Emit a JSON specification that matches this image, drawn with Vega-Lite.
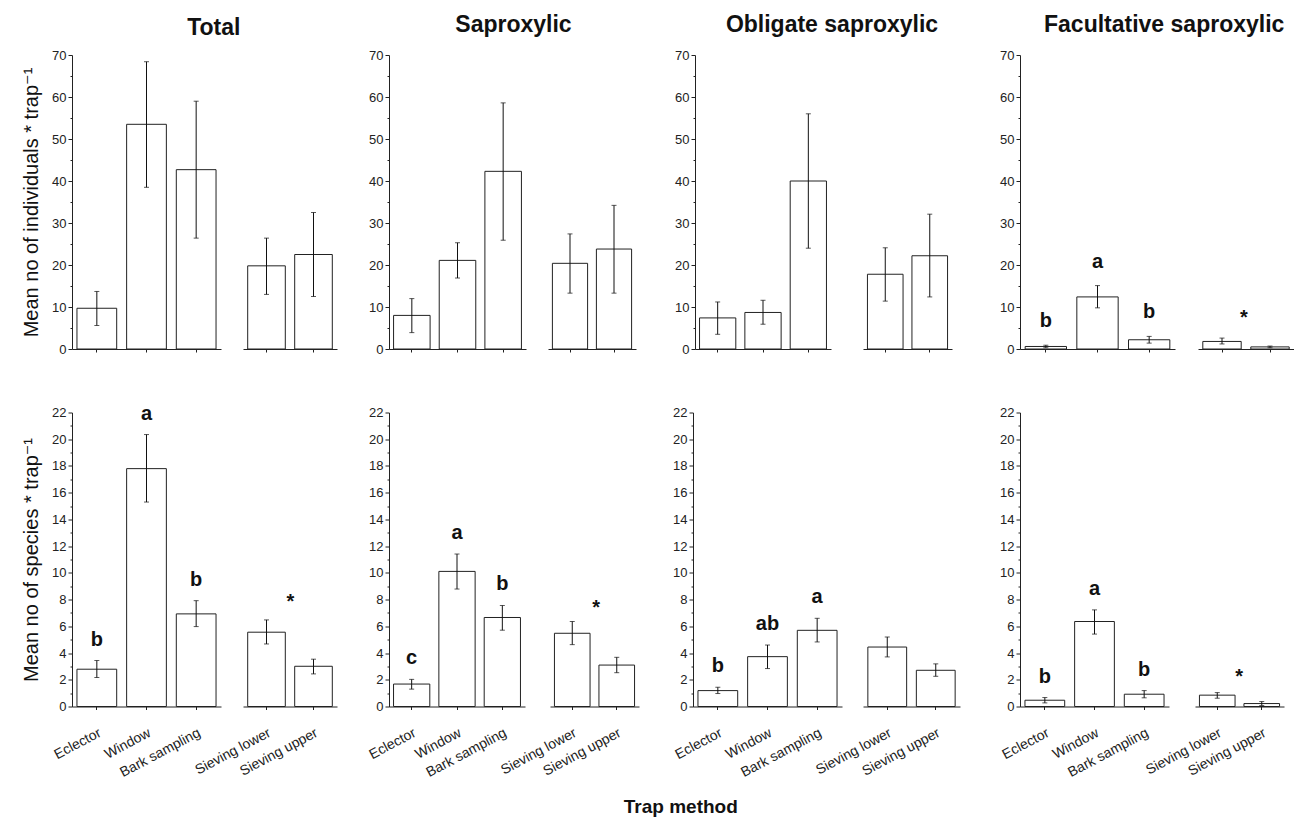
{
  "$schema": "https://vega.github.io/schema/vega-lite/v6.json",
  "background": "white",
  "padding": {"left": 21, "top": 14, "right": 0, "bottom": 0},
  "config": {
    "view": {"stroke": null},
    "font": "Liberation Sans",
    "axis": {"domainColor": "#222", "tickColor": "#222", "labelColor": "#222", "labelFont": "Liberation Sans", "labelFontSize": 13, "titleFont": "Liberation Sans, DejaVu Sans", "titleColor": "#111", "titleFontWeight": "normal", "titleFontSize": 20, "grid": false, "tickSize": 3, "domainWidth": 1, "tickWidth": 1},
    "axisY": {"labelPadding": 2, "titlePadding": 10, "labelOverlap": false},
    "axisX": {"title": null},
    "bar": {"fill": "white", "stroke": "#222", "strokeWidth": 1},
    "rule": {"color": "#111", "strokeWidth": 1},
    "tick": {"color": "#111", "size": 5, "thickness": 1},
    "point": {"opacity": 0},
    "text": {"font": "Liberation Sans", "fontSize": 20, "fontWeight": "bold", "color": "#111", "baseline": "alphabetic", "align": "center"},
    "title": {"font": "Liberation Sans", "fontSize": 23, "fontWeight": "bold", "color": "#111", "anchor": "start", "frame": "group", "offset": 12}
  },
  "title": {"text": "Trap method", "orient": "bottom", "fontSize": 19, "offset": 18, "anchor": "middle", "frame": "bounds", "dx": 23},
  "data": {"values": [
    {"m":"ind","g":"Total","s":"A","method":"Eclector","mean":9.7,"lo":5.6,"hi":13.7,"let":""},
    {"m":"ind","g":"Total","s":"A","method":"Window","mean":53.5,"lo":38.5,"hi":68.4,"let":""},
    {"m":"ind","g":"Total","s":"A","method":"Bark sampling","mean":42.7,"lo":26.4,"hi":59.0,"let":""},
    {"m":"ind","g":"Total","s":"B","method":"Sieving lower","mean":19.8,"lo":13.0,"hi":26.4,"let":""},
    {"m":"ind","g":"Total","s":"B","method":"Sieving upper","mean":22.5,"lo":12.5,"hi":32.5,"let":""},
    {"m":"ind","g":"Saproxylic","s":"A","method":"Eclector","mean":8.0,"lo":3.9,"hi":12.0,"let":""},
    {"m":"ind","g":"Saproxylic","s":"A","method":"Window","mean":21.1,"lo":16.9,"hi":25.3,"let":""},
    {"m":"ind","g":"Saproxylic","s":"A","method":"Bark sampling","mean":42.3,"lo":25.9,"hi":58.6,"let":""},
    {"m":"ind","g":"Saproxylic","s":"B","method":"Sieving lower","mean":20.4,"lo":13.3,"hi":27.4,"let":""},
    {"m":"ind","g":"Saproxylic","s":"B","method":"Sieving upper","mean":23.8,"lo":13.3,"hi":34.2,"let":""},
    {"m":"ind","g":"Obligate","s":"A","method":"Eclector","mean":7.4,"lo":3.5,"hi":11.2,"let":""},
    {"m":"ind","g":"Obligate","s":"A","method":"Window","mean":8.7,"lo":5.9,"hi":11.6,"let":""},
    {"m":"ind","g":"Obligate","s":"A","method":"Bark sampling","mean":40.0,"lo":24.0,"hi":56.0,"let":""},
    {"m":"ind","g":"Obligate","s":"B","method":"Sieving lower","mean":17.8,"lo":11.4,"hi":24.1,"let":""},
    {"m":"ind","g":"Obligate","s":"B","method":"Sieving upper","mean":22.2,"lo":12.4,"hi":32.1,"let":""},
    {"m":"ind","g":"Facultative","s":"A","method":"Eclector","mean":0.6,"lo":0.3,"hi":0.9,"let":"b"},
    {"m":"ind","g":"Facultative","s":"A","method":"Window","mean":12.4,"lo":9.8,"hi":15.1,"let":"a"},
    {"m":"ind","g":"Facultative","s":"A","method":"Bark sampling","mean":2.2,"lo":1.4,"hi":3.0,"let":"b"},
    {"m":"ind","g":"Facultative","s":"B","method":"Sieving lower","mean":1.8,"lo":1.2,"hi":2.6,"let":"*"},
    {"m":"ind","g":"Facultative","s":"B","method":"Sieving upper","mean":0.5,"lo":0.3,"hi":0.7,"let":""},
    {"m":"spp","g":"Total","s":"A","method":"Eclector","mean":2.79,"lo":2.17,"hi":3.44,"let":"b"},
    {"m":"spp","g":"Total","s":"A","method":"Window","mean":17.8,"lo":15.3,"hi":20.35,"let":"a"},
    {"m":"spp","g":"Total","s":"A","method":"Bark sampling","mean":6.93,"lo":5.98,"hi":7.92,"let":"b"},
    {"m":"spp","g":"Total","s":"B","method":"Sieving lower","mean":5.56,"lo":4.68,"hi":6.48,"let":"*"},
    {"m":"spp","g":"Total","s":"B","method":"Sieving upper","mean":3.01,"lo":2.44,"hi":3.54,"let":""},
    {"m":"spp","g":"Saproxylic","s":"A","method":"Eclector","mean":1.68,"lo":1.30,"hi":2.03,"let":"c"},
    {"m":"spp","g":"Saproxylic","s":"A","method":"Window","mean":10.11,"lo":8.79,"hi":11.41,"let":"a"},
    {"m":"spp","g":"Saproxylic","s":"A","method":"Bark sampling","mean":6.66,"lo":5.71,"hi":7.56,"let":"b"},
    {"m":"spp","g":"Saproxylic","s":"B","method":"Sieving lower","mean":5.48,"lo":4.63,"hi":6.36,"let":"*"},
    {"m":"spp","g":"Saproxylic","s":"B","method":"Sieving upper","mean":3.10,"lo":2.53,"hi":3.68,"let":""},
    {"m":"spp","g":"Obligate","s":"A","method":"Eclector","mean":1.19,"lo":0.97,"hi":1.44,"let":"b"},
    {"m":"spp","g":"Obligate","s":"A","method":"Window","mean":3.73,"lo":2.84,"hi":4.6,"let":"ab"},
    {"m":"spp","g":"Obligate","s":"A","method":"Bark sampling","mean":5.70,"lo":4.83,"hi":6.6,"let":"a"},
    {"m":"spp","g":"Obligate","s":"B","method":"Sieving lower","mean":4.45,"lo":3.71,"hi":5.2,"let":""},
    {"m":"spp","g":"Obligate","s":"B","method":"Sieving upper","mean":2.71,"lo":2.26,"hi":3.19,"let":""},
    {"m":"spp","g":"Facultative","s":"A","method":"Eclector","mean":0.47,"lo":0.27,"hi":0.67,"let":"b"},
    {"m":"spp","g":"Facultative","s":"A","method":"Window","mean":6.36,"lo":5.42,"hi":7.23,"let":"a"},
    {"m":"spp","g":"Facultative","s":"A","method":"Bark sampling","mean":0.92,"lo":0.65,"hi":1.19,"let":"b"},
    {"m":"spp","g":"Facultative","s":"B","method":"Sieving lower","mean":0.85,"lo":0.62,"hi":1.04,"let":"*"},
    {"m":"spp","g":"Facultative","s":"B","method":"Sieving upper","mean":0.22,"lo":0.07,"hi":0.37,"let":""}
  ]},
  "spacing": 47.5,
  "vconcat": [
   {"bounds": "flush", "spacing": 0, "hconcat": [
    {"width": 149, "height": 294, "title": {"text": "Total", "dx": 115.2, "dy": 3},
     "transform": [{"filter": "datum.m==='ind' && datum.g==='Total' && datum.s==='A'"}],
     "encoding": {"x": {"field": "method", "type": "nominal", "sort": ["Eclector","Window","Bark sampling"], "scale": {"paddingInner": 0.2, "paddingOuter": 0.1}, "axis": {"labels": false}}},
     "layer": [
       {"mark": "bar", "encoding": {"y": {"field": "mean", "type": "quantitative", "scale": {"domain": [0,70], "nice": false}, "axis": {"title": "Mean no of individuals * trap⁻¹", "labelOverlap": false, "values": [0,5,10,15,20,25,30,35,40,45,50,55,60,65,70], "labelExpr": "datum.value % 10 === 0 ? datum.label : ''", "tickSize": {"condition": {"test": "datum.value % 10 === 0", "value": 4}, "value": 2}}}}},
       {"mark": "rule", "encoding": {"y": {"field": "lo", "type": "quantitative", "scale": {"domain": [0,70], "nice": false}, "axis": {"title": "Mean no of individuals * trap⁻¹", "labelOverlap": false, "values": [0,5,10,15,20,25,30,35,40,45,50,55,60,65,70], "labelExpr": "datum.value % 10 === 0 ? datum.label : ''", "tickSize": {"condition": {"test": "datum.value % 10 === 0", "value": 4}, "value": 2}}}, "y2": {"field": "hi"}}},
       {"mark": "tick", "encoding": {"y": {"field": "lo", "type": "quantitative", "scale": {"domain": [0,70], "nice": false}, "axis": {"title": "Mean no of individuals * trap⁻¹", "labelOverlap": false, "values": [0,5,10,15,20,25,30,35,40,45,50,55,60,65,70], "labelExpr": "datum.value % 10 === 0 ? datum.label : ''", "tickSize": {"condition": {"test": "datum.value % 10 === 0", "value": 4}, "value": 2}}}}},
       {"mark": "tick", "encoding": {"y": {"field": "hi", "type": "quantitative", "scale": {"domain": [0,70], "nice": false}, "axis": {"title": "Mean no of individuals * trap⁻¹", "labelOverlap": false, "values": [0,5,10,15,20,25,30,35,40,45,50,55,60,65,70], "labelExpr": "datum.value % 10 === 0 ? datum.label : ''", "tickSize": {"condition": {"test": "datum.value % 10 === 0", "value": 4}, "value": 2}}}}}
     ]},
    {"width": 22, "height": 294, "data": {"values": []}, "mark": "point"},
    {"width": 94, "height": 294,
     "transform": [{"filter": "datum.m==='ind' && datum.g==='Total' && datum.s==='B'"}],
     "encoding": {"x": {"field": "method", "type": "nominal", "sort": ["Sieving lower","Sieving upper"], "scale": {"paddingInner": 0.2, "paddingOuter": 0.1}, "axis": {"labels": false}}},
     "layer": [
       {"mark": "bar", "encoding": {"y": {"field": "mean", "type": "quantitative", "scale": {"domain": [0,70], "nice": false}, "axis": null}}},
       {"mark": "rule", "encoding": {"y": {"field": "lo", "type": "quantitative", "axis": null}, "y2": {"field": "hi"}}},
       {"mark": "tick", "encoding": {"y": {"field": "lo", "type": "quantitative", "axis": null}}},
       {"mark": "tick", "encoding": {"y": {"field": "hi", "type": "quantitative", "axis": null}}}
     ]},
    {"width": 52, "height": 294, "data": {"values": []}, "mark": "point"},
    {"width": 137, "height": 294, "title": {"text": "Saproxylic", "dx": 66.3},
     "transform": [{"filter": "datum.m==='ind' && datum.g==='Saproxylic' && datum.s==='A'"}],
     "encoding": {"x": {"field": "method", "type": "nominal", "sort": ["Eclector","Window","Bark sampling"], "scale": {"paddingInner": 0.2, "paddingOuter": 0.1}, "axis": {"labels": false}}},
     "layer": [
       {"mark": "bar", "encoding": {"y": {"field": "mean", "type": "quantitative", "scale": {"domain": [0,70], "nice": false}, "axis": {"title": null, "labelOverlap": false, "values": [0,5,10,15,20,25,30,35,40,45,50,55,60,65,70], "labelExpr": "datum.value % 10 === 0 ? datum.label : ''", "tickSize": {"condition": {"test": "datum.value % 10 === 0", "value": 4}, "value": 2}}}}},
       {"mark": "rule", "encoding": {"y": {"field": "lo", "type": "quantitative", "scale": {"domain": [0,70], "nice": false}, "axis": {"title": null, "labelOverlap": false, "values": [0,5,10,15,20,25,30,35,40,45,50,55,60,65,70], "labelExpr": "datum.value % 10 === 0 ? datum.label : ''", "tickSize": {"condition": {"test": "datum.value % 10 === 0", "value": 4}, "value": 2}}}, "y2": {"field": "hi"}}},
       {"mark": "tick", "encoding": {"y": {"field": "lo", "type": "quantitative", "scale": {"domain": [0,70], "nice": false}, "axis": {"title": null, "labelOverlap": false, "values": [0,5,10,15,20,25,30,35,40,45,50,55,60,65,70], "labelExpr": "datum.value % 10 === 0 ? datum.label : ''", "tickSize": {"condition": {"test": "datum.value % 10 === 0", "value": 4}, "value": 2}}}}},
       {"mark": "tick", "encoding": {"y": {"field": "hi", "type": "quantitative", "scale": {"domain": [0,70], "nice": false}, "axis": {"title": null, "labelOverlap": false, "values": [0,5,10,15,20,25,30,35,40,45,50,55,60,65,70], "labelExpr": "datum.value % 10 === 0 ? datum.label : ''", "tickSize": {"condition": {"test": "datum.value % 10 === 0", "value": 4}, "value": 2}}}}}
     ]},
    {"width": 22, "height": 294, "data": {"values": []}, "mark": "point"},
    {"width": 88, "height": 294,
     "transform": [{"filter": "datum.m==='ind' && datum.g==='Saproxylic' && datum.s==='B'"}],
     "encoding": {"x": {"field": "method", "type": "nominal", "sort": ["Sieving lower","Sieving upper"], "scale": {"paddingInner": 0.2, "paddingOuter": 0.1}, "axis": {"labels": false}}},
     "layer": [
       {"mark": "bar", "encoding": {"y": {"field": "mean", "type": "quantitative", "scale": {"domain": [0,70], "nice": false}, "axis": null}}},
       {"mark": "rule", "encoding": {"y": {"field": "lo", "type": "quantitative", "axis": null}, "y2": {"field": "hi"}}},
       {"mark": "tick", "encoding": {"y": {"field": "lo", "type": "quantitative", "axis": null}}},
       {"mark": "tick", "encoding": {"y": {"field": "hi", "type": "quantitative", "axis": null}}}
     ]},
    {"width": 59, "height": 294, "data": {"values": []}, "mark": "point"},
    {"width": 136, "height": 294, "title": {"text": "Obligate saproxylic", "dx": 30.9},
     "transform": [{"filter": "datum.m==='ind' && datum.g==='Obligate' && datum.s==='A'"}],
     "encoding": {"x": {"field": "method", "type": "nominal", "sort": ["Eclector","Window","Bark sampling"], "scale": {"paddingInner": 0.2, "paddingOuter": 0.1}, "axis": {"labels": false}}},
     "layer": [
       {"mark": "bar", "encoding": {"y": {"field": "mean", "type": "quantitative", "scale": {"domain": [0,70], "nice": false}, "axis": {"title": null, "labelOverlap": false, "values": [0,5,10,15,20,25,30,35,40,45,50,55,60,65,70], "labelExpr": "datum.value % 10 === 0 ? datum.label : ''", "tickSize": {"condition": {"test": "datum.value % 10 === 0", "value": 4}, "value": 2}}}}},
       {"mark": "rule", "encoding": {"y": {"field": "lo", "type": "quantitative", "scale": {"domain": [0,70], "nice": false}, "axis": {"title": null, "labelOverlap": false, "values": [0,5,10,15,20,25,30,35,40,45,50,55,60,65,70], "labelExpr": "datum.value % 10 === 0 ? datum.label : ''", "tickSize": {"condition": {"test": "datum.value % 10 === 0", "value": 4}, "value": 2}}}, "y2": {"field": "hi"}}},
       {"mark": "tick", "encoding": {"y": {"field": "lo", "type": "quantitative", "scale": {"domain": [0,70], "nice": false}, "axis": {"title": null, "labelOverlap": false, "values": [0,5,10,15,20,25,30,35,40,45,50,55,60,65,70], "labelExpr": "datum.value % 10 === 0 ? datum.label : ''", "tickSize": {"condition": {"test": "datum.value % 10 === 0", "value": 4}, "value": 2}}}}},
       {"mark": "tick", "encoding": {"y": {"field": "hi", "type": "quantitative", "scale": {"domain": [0,70], "nice": false}, "axis": {"title": null, "labelOverlap": false, "values": [0,5,10,15,20,25,30,35,40,45,50,55,60,65,70], "labelExpr": "datum.value % 10 === 0 ? datum.label : ''", "tickSize": {"condition": {"test": "datum.value % 10 === 0", "value": 4}, "value": 2}}}}}
     ]},
    {"width": 32, "height": 294, "data": {"values": []}, "mark": "point"},
    {"width": 89, "height": 294,
     "transform": [{"filter": "datum.m==='ind' && datum.g==='Obligate' && datum.s==='B'"}],
     "encoding": {"x": {"field": "method", "type": "nominal", "sort": ["Sieving lower","Sieving upper"], "scale": {"paddingInner": 0.2, "paddingOuter": 0.1}, "axis": {"labels": false}}},
     "layer": [
       {"mark": "bar", "encoding": {"y": {"field": "mean", "type": "quantitative", "scale": {"domain": [0,70], "nice": false}, "axis": null}}},
       {"mark": "rule", "encoding": {"y": {"field": "lo", "type": "quantitative", "axis": null}, "y2": {"field": "hi"}}},
       {"mark": "tick", "encoding": {"y": {"field": "lo", "type": "quantitative", "axis": null}}},
       {"mark": "tick", "encoding": {"y": {"field": "hi", "type": "quantitative", "axis": null}}}
     ]},
    {"width": 68, "height": 294, "data": {"values": []}, "mark": "point"},
    {"width": 155, "height": 294, "title": {"text": "Facultative saproxylic", "dx": 24},
     "transform": [{"filter": "datum.m==='ind' && datum.g==='Facultative' && datum.s==='A'"}],
     "encoding": {"x": {"field": "method", "type": "nominal", "sort": ["Eclector","Window","Bark sampling"], "scale": {"paddingInner": 0.2, "paddingOuter": 0.1}, "axis": {"labels": false}}},
     "layer": [
       {"mark": "bar", "encoding": {"y": {"field": "mean", "type": "quantitative", "scale": {"domain": [0,70], "nice": false}, "axis": {"title": null, "labelOverlap": false, "values": [0,5,10,15,20,25,30,35,40,45,50,55,60,65,70], "labelExpr": "datum.value % 10 === 0 ? datum.label : ''", "tickSize": {"condition": {"test": "datum.value % 10 === 0", "value": 4}, "value": 2}}}}},
       {"mark": "rule", "encoding": {"y": {"field": "lo", "type": "quantitative", "scale": {"domain": [0,70], "nice": false}, "axis": {"title": null, "labelOverlap": false, "values": [0,5,10,15,20,25,30,35,40,45,50,55,60,65,70], "labelExpr": "datum.value % 10 === 0 ? datum.label : ''", "tickSize": {"condition": {"test": "datum.value % 10 === 0", "value": 4}, "value": 2}}}, "y2": {"field": "hi"}}},
       {"mark": "tick", "encoding": {"y": {"field": "lo", "type": "quantitative", "scale": {"domain": [0,70], "nice": false}, "axis": {"title": null, "labelOverlap": false, "values": [0,5,10,15,20,25,30,35,40,45,50,55,60,65,70], "labelExpr": "datum.value % 10 === 0 ? datum.label : ''", "tickSize": {"condition": {"test": "datum.value % 10 === 0", "value": 4}, "value": 2}}}}},
       {"mark": "tick", "encoding": {"y": {"field": "hi", "type": "quantitative", "scale": {"domain": [0,70], "nice": false}, "axis": {"title": null, "labelOverlap": false, "values": [0,5,10,15,20,25,30,35,40,45,50,55,60,65,70], "labelExpr": "datum.value % 10 === 0 ? datum.label : ''", "tickSize": {"condition": {"test": "datum.value % 10 === 0", "value": 4}, "value": 2}}}}},
       {"mark": {"type": "text", "dy": -18}, "encoding": {"y": {"field": "hi", "type": "quantitative", "scale": {"domain": [0,70], "nice": false}, "axis": {"title": null, "labelOverlap": false, "values": [0,5,10,15,20,25,30,35,40,45,50,55,60,65,70], "labelExpr": "datum.value % 10 === 0 ? datum.label : ''", "tickSize": {"condition": {"test": "datum.value % 10 === 0", "value": 4}, "value": 2}}}, "text": {"field": "let"}}}
     ]},
    {"width": 23, "height": 294, "data": {"values": []}, "mark": "point"},
    {"width": 96, "height": 294,
     "transform": [{"filter": "datum.m==='ind' && datum.g==='Facultative' && datum.s==='B'"}],
     "encoding": {"x": {"field": "method", "type": "nominal", "sort": ["Sieving lower","Sieving upper"], "scale": {"paddingInner": 0.2, "paddingOuter": 0.1}, "axis": {"labels": false}}},
     "layer": [
       {"mark": "bar", "encoding": {"y": {"field": "mean", "type": "quantitative", "scale": {"domain": [0,70], "nice": false}, "axis": null}}},
       {"mark": "rule", "encoding": {"y": {"field": "lo", "type": "quantitative", "axis": null}, "y2": {"field": "hi"}}},
       {"mark": "tick", "encoding": {"y": {"field": "lo", "type": "quantitative", "axis": null}}},
       {"mark": "tick", "encoding": {"y": {"field": "hi", "type": "quantitative", "axis": null}}},
       {"mark": {"type": "text", "dy": -14, "dx": 22}, "encoding": {"y": {"field": "hi", "type": "quantitative", "axis": null}, "text": {"field": "let"}}}
     ]}
   ]},
   {"bounds": "flush", "spacing": 0, "hconcat": [
    {"width": 149, "height": 294,
     "transform": [{"filter": "datum.m==='spp' && datum.g==='Total' && datum.s==='A'"}],
     "encoding": {"x": {"field": "method", "type": "nominal", "sort": ["Eclector","Window","Bark sampling"], "scale": {"paddingInner": 0.2, "paddingOuter": 0.1}, "axis": {"labelAngle": -28, "labelAlign": "right", "labelBaseline": "top", "labelPadding": 16, "labelFontSize": 14}}},
     "layer": [
       {"mark": "bar", "encoding": {"y": {"field": "mean", "type": "quantitative", "scale": {"domain": [0,22], "nice": false}, "axis": {"title": "Mean no of species * trap⁻¹", "labelOverlap": false, "values": [0,1,2,3,4,5,6,7,8,9,10,11,12,13,14,15,16,17,18,19,20,21,22], "labelExpr": "datum.value % 2 === 0 ? datum.label : ''", "tickSize": {"condition": {"test": "datum.value % 2 === 0", "value": 4}, "value": 2}}}}},
       {"mark": "rule", "encoding": {"y": {"field": "lo", "type": "quantitative", "scale": {"domain": [0,22], "nice": false}, "axis": {"title": "Mean no of species * trap⁻¹", "labelOverlap": false, "values": [0,1,2,3,4,5,6,7,8,9,10,11,12,13,14,15,16,17,18,19,20,21,22], "labelExpr": "datum.value % 2 === 0 ? datum.label : ''", "tickSize": {"condition": {"test": "datum.value % 2 === 0", "value": 4}, "value": 2}}}, "y2": {"field": "hi"}}},
       {"mark": "tick", "encoding": {"y": {"field": "lo", "type": "quantitative", "scale": {"domain": [0,22], "nice": false}, "axis": {"title": "Mean no of species * trap⁻¹", "labelOverlap": false, "values": [0,1,2,3,4,5,6,7,8,9,10,11,12,13,14,15,16,17,18,19,20,21,22], "labelExpr": "datum.value % 2 === 0 ? datum.label : ''", "tickSize": {"condition": {"test": "datum.value % 2 === 0", "value": 4}, "value": 2}}}}},
       {"mark": "tick", "encoding": {"y": {"field": "hi", "type": "quantitative", "scale": {"domain": [0,22], "nice": false}, "axis": {"title": "Mean no of species * trap⁻¹", "labelOverlap": false, "values": [0,1,2,3,4,5,6,7,8,9,10,11,12,13,14,15,16,17,18,19,20,21,22], "labelExpr": "datum.value % 2 === 0 ? datum.label : ''", "tickSize": {"condition": {"test": "datum.value % 2 === 0", "value": 4}, "value": 2}}}}},
       {"mark": {"type": "text", "dy": -15}, "encoding": {"y": {"field": "hi", "type": "quantitative", "scale": {"domain": [0,22], "nice": false}, "axis": {"title": "Mean no of species * trap⁻¹", "labelOverlap": false, "values": [0,1,2,3,4,5,6,7,8,9,10,11,12,13,14,15,16,17,18,19,20,21,22], "labelExpr": "datum.value % 2 === 0 ? datum.label : ''", "tickSize": {"condition": {"test": "datum.value % 2 === 0", "value": 4}, "value": 2}}}, "text": {"field": "let"}}}
     ]},
    {"width": 22, "height": 294, "data": {"values": []}, "mark": "point"},
    {"width": 94, "height": 294,
     "transform": [{"filter": "datum.m==='spp' && datum.g==='Total' && datum.s==='B'"}],
     "encoding": {"x": {"field": "method", "type": "nominal", "sort": ["Sieving lower","Sieving upper"], "scale": {"paddingInner": 0.2, "paddingOuter": 0.1}, "axis": {"labelAngle": -28, "labelAlign": "right", "labelBaseline": "top", "labelPadding": 16, "labelFontSize": 14}}},
     "layer": [
       {"mark": "bar", "encoding": {"y": {"field": "mean", "type": "quantitative", "scale": {"domain": [0,22], "nice": false}, "axis": null}}},
       {"mark": "rule", "encoding": {"y": {"field": "lo", "type": "quantitative", "axis": null}, "y2": {"field": "hi"}}},
       {"mark": "tick", "encoding": {"y": {"field": "lo", "type": "quantitative", "axis": null}}},
       {"mark": "tick", "encoding": {"y": {"field": "hi", "type": "quantitative", "axis": null}}},
       {"mark": {"type": "text", "dy": -12, "dx": 24}, "encoding": {"y": {"field": "hi", "type": "quantitative", "axis": null}, "text": {"field": "let"}}}
     ]},
    {"width": 52, "height": 294, "data": {"values": []}, "mark": "point"},
    {"width": 136, "height": 294,
     "transform": [{"filter": "datum.m==='spp' && datum.g==='Saproxylic' && datum.s==='A'"}],
     "encoding": {"x": {"field": "method", "type": "nominal", "sort": ["Eclector","Window","Bark sampling"], "scale": {"paddingInner": 0.2, "paddingOuter": 0.1}, "axis": {"labelAngle": -28, "labelAlign": "right", "labelBaseline": "top", "labelPadding": 16, "labelFontSize": 14}}},
     "layer": [
       {"mark": "bar", "encoding": {"y": {"field": "mean", "type": "quantitative", "scale": {"domain": [0,22], "nice": false}, "axis": {"title": null, "labelOverlap": false, "values": [0,1,2,3,4,5,6,7,8,9,10,11,12,13,14,15,16,17,18,19,20,21,22], "labelExpr": "datum.value % 2 === 0 ? datum.label : ''", "tickSize": {"condition": {"test": "datum.value % 2 === 0", "value": 4}, "value": 2}}}}},
       {"mark": "rule", "encoding": {"y": {"field": "lo", "type": "quantitative", "scale": {"domain": [0,22], "nice": false}, "axis": {"title": null, "labelOverlap": false, "values": [0,1,2,3,4,5,6,7,8,9,10,11,12,13,14,15,16,17,18,19,20,21,22], "labelExpr": "datum.value % 2 === 0 ? datum.label : ''", "tickSize": {"condition": {"test": "datum.value % 2 === 0", "value": 4}, "value": 2}}}, "y2": {"field": "hi"}}},
       {"mark": "tick", "encoding": {"y": {"field": "lo", "type": "quantitative", "scale": {"domain": [0,22], "nice": false}, "axis": {"title": null, "labelOverlap": false, "values": [0,1,2,3,4,5,6,7,8,9,10,11,12,13,14,15,16,17,18,19,20,21,22], "labelExpr": "datum.value % 2 === 0 ? datum.label : ''", "tickSize": {"condition": {"test": "datum.value % 2 === 0", "value": 4}, "value": 2}}}}},
       {"mark": "tick", "encoding": {"y": {"field": "hi", "type": "quantitative", "scale": {"domain": [0,22], "nice": false}, "axis": {"title": null, "labelOverlap": false, "values": [0,1,2,3,4,5,6,7,8,9,10,11,12,13,14,15,16,17,18,19,20,21,22], "labelExpr": "datum.value % 2 === 0 ? datum.label : ''", "tickSize": {"condition": {"test": "datum.value % 2 === 0", "value": 4}, "value": 2}}}}},
       {"mark": {"type": "text", "dy": -15}, "encoding": {"y": {"field": "hi", "type": "quantitative", "scale": {"domain": [0,22], "nice": false}, "axis": {"title": null, "labelOverlap": false, "values": [0,1,2,3,4,5,6,7,8,9,10,11,12,13,14,15,16,17,18,19,20,21,22], "labelExpr": "datum.value % 2 === 0 ? datum.label : ''", "tickSize": {"condition": {"test": "datum.value % 2 === 0", "value": 4}, "value": 2}}}, "text": {"field": "let"}}}
     ]},
    {"width": 25, "height": 294, "data": {"values": []}, "mark": "point"},
    {"width": 89, "height": 294,
     "transform": [{"filter": "datum.m==='spp' && datum.g==='Saproxylic' && datum.s==='B'"}],
     "encoding": {"x": {"field": "method", "type": "nominal", "sort": ["Sieving lower","Sieving upper"], "scale": {"paddingInner": 0.2, "paddingOuter": 0.1}, "axis": {"labelAngle": -28, "labelAlign": "right", "labelBaseline": "top", "labelPadding": 16, "labelFontSize": 14}}},
     "layer": [
       {"mark": "bar", "encoding": {"y": {"field": "mean", "type": "quantitative", "scale": {"domain": [0,22], "nice": false}, "axis": null}}},
       {"mark": "rule", "encoding": {"y": {"field": "lo", "type": "quantitative", "axis": null}, "y2": {"field": "hi"}}},
       {"mark": "tick", "encoding": {"y": {"field": "lo", "type": "quantitative", "axis": null}}},
       {"mark": "tick", "encoding": {"y": {"field": "hi", "type": "quantitative", "axis": null}}},
       {"mark": {"type": "text", "dy": -8, "dx": 24}, "encoding": {"y": {"field": "hi", "type": "quantitative", "axis": null}, "text": {"field": "let"}}}
     ]},
    {"width": 54, "height": 294, "data": {"values": []}, "mark": "point"},
    {"width": 149, "height": 294,
     "transform": [{"filter": "datum.m==='spp' && datum.g==='Obligate' && datum.s==='A'"}],
     "encoding": {"x": {"field": "method", "type": "nominal", "sort": ["Eclector","Window","Bark sampling"], "scale": {"paddingInner": 0.2, "paddingOuter": 0.1}, "axis": {"labelAngle": -28, "labelAlign": "right", "labelBaseline": "top", "labelPadding": 16, "labelFontSize": 14}}},
     "layer": [
       {"mark": "bar", "encoding": {"y": {"field": "mean", "type": "quantitative", "scale": {"domain": [0,22], "nice": false}, "axis": {"title": null, "labelOverlap": false, "values": [0,1,2,3,4,5,6,7,8,9,10,11,12,13,14,15,16,17,18,19,20,21,22], "labelExpr": "datum.value % 2 === 0 ? datum.label : ''", "tickSize": {"condition": {"test": "datum.value % 2 === 0", "value": 4}, "value": 2}}}}},
       {"mark": "rule", "encoding": {"y": {"field": "lo", "type": "quantitative", "scale": {"domain": [0,22], "nice": false}, "axis": {"title": null, "labelOverlap": false, "values": [0,1,2,3,4,5,6,7,8,9,10,11,12,13,14,15,16,17,18,19,20,21,22], "labelExpr": "datum.value % 2 === 0 ? datum.label : ''", "tickSize": {"condition": {"test": "datum.value % 2 === 0", "value": 4}, "value": 2}}}, "y2": {"field": "hi"}}},
       {"mark": "tick", "encoding": {"y": {"field": "lo", "type": "quantitative", "scale": {"domain": [0,22], "nice": false}, "axis": {"title": null, "labelOverlap": false, "values": [0,1,2,3,4,5,6,7,8,9,10,11,12,13,14,15,16,17,18,19,20,21,22], "labelExpr": "datum.value % 2 === 0 ? datum.label : ''", "tickSize": {"condition": {"test": "datum.value % 2 === 0", "value": 4}, "value": 2}}}}},
       {"mark": "tick", "encoding": {"y": {"field": "hi", "type": "quantitative", "scale": {"domain": [0,22], "nice": false}, "axis": {"title": null, "labelOverlap": false, "values": [0,1,2,3,4,5,6,7,8,9,10,11,12,13,14,15,16,17,18,19,20,21,22], "labelExpr": "datum.value % 2 === 0 ? datum.label : ''", "tickSize": {"condition": {"test": "datum.value % 2 === 0", "value": 4}, "value": 2}}}}},
       {"mark": {"type": "text", "dy": -15}, "encoding": {"y": {"field": "hi", "type": "quantitative", "scale": {"domain": [0,22], "nice": false}, "axis": {"title": null, "labelOverlap": false, "values": [0,1,2,3,4,5,6,7,8,9,10,11,12,13,14,15,16,17,18,19,20,21,22], "labelExpr": "datum.value % 2 === 0 ? datum.label : ''", "tickSize": {"condition": {"test": "datum.value % 2 === 0", "value": 4}, "value": 2}}}, "text": {"field": "let"}}}
     ]},
    {"width": 21, "height": 294, "data": {"values": []}, "mark": "point"},
    {"width": 97, "height": 294,
     "transform": [{"filter": "datum.m==='spp' && datum.g==='Obligate' && datum.s==='B'"}],
     "encoding": {"x": {"field": "method", "type": "nominal", "sort": ["Sieving lower","Sieving upper"], "scale": {"paddingInner": 0.2, "paddingOuter": 0.1}, "axis": {"labelAngle": -28, "labelAlign": "right", "labelBaseline": "top", "labelPadding": 16, "labelFontSize": 14}}},
     "layer": [
       {"mark": "bar", "encoding": {"y": {"field": "mean", "type": "quantitative", "scale": {"domain": [0,22], "nice": false}, "axis": null}}},
       {"mark": "rule", "encoding": {"y": {"field": "lo", "type": "quantitative", "axis": null}, "y2": {"field": "hi"}}},
       {"mark": "tick", "encoding": {"y": {"field": "lo", "type": "quantitative", "axis": null}}},
       {"mark": "tick", "encoding": {"y": {"field": "hi", "type": "quantitative", "axis": null}}}
     ]},
    {"width": 60, "height": 294, "data": {"values": []}, "mark": "point"},
    {"width": 149, "height": 294,
     "transform": [{"filter": "datum.m==='spp' && datum.g==='Facultative' && datum.s==='A'"}],
     "encoding": {"x": {"field": "method", "type": "nominal", "sort": ["Eclector","Window","Bark sampling"], "scale": {"paddingInner": 0.2, "paddingOuter": 0.1}, "axis": {"labelAngle": -28, "labelAlign": "right", "labelBaseline": "top", "labelPadding": 16, "labelFontSize": 14}}},
     "layer": [
       {"mark": "bar", "encoding": {"y": {"field": "mean", "type": "quantitative", "scale": {"domain": [0,22], "nice": false}, "axis": {"title": null, "labelOverlap": false, "values": [0,1,2,3,4,5,6,7,8,9,10,11,12,13,14,15,16,17,18,19,20,21,22], "labelExpr": "datum.value % 2 === 0 ? datum.label : ''", "tickSize": {"condition": {"test": "datum.value % 2 === 0", "value": 4}, "value": 2}}}}},
       {"mark": "rule", "encoding": {"y": {"field": "lo", "type": "quantitative", "scale": {"domain": [0,22], "nice": false}, "axis": {"title": null, "labelOverlap": false, "values": [0,1,2,3,4,5,6,7,8,9,10,11,12,13,14,15,16,17,18,19,20,21,22], "labelExpr": "datum.value % 2 === 0 ? datum.label : ''", "tickSize": {"condition": {"test": "datum.value % 2 === 0", "value": 4}, "value": 2}}}, "y2": {"field": "hi"}}},
       {"mark": "tick", "encoding": {"y": {"field": "lo", "type": "quantitative", "scale": {"domain": [0,22], "nice": false}, "axis": {"title": null, "labelOverlap": false, "values": [0,1,2,3,4,5,6,7,8,9,10,11,12,13,14,15,16,17,18,19,20,21,22], "labelExpr": "datum.value % 2 === 0 ? datum.label : ''", "tickSize": {"condition": {"test": "datum.value % 2 === 0", "value": 4}, "value": 2}}}}},
       {"mark": "tick", "encoding": {"y": {"field": "hi", "type": "quantitative", "scale": {"domain": [0,22], "nice": false}, "axis": {"title": null, "labelOverlap": false, "values": [0,1,2,3,4,5,6,7,8,9,10,11,12,13,14,15,16,17,18,19,20,21,22], "labelExpr": "datum.value % 2 === 0 ? datum.label : ''", "tickSize": {"condition": {"test": "datum.value % 2 === 0", "value": 4}, "value": 2}}}}},
       {"mark": {"type": "text", "dy": -15}, "encoding": {"y": {"field": "hi", "type": "quantitative", "scale": {"domain": [0,22], "nice": false}, "axis": {"title": null, "labelOverlap": false, "values": [0,1,2,3,4,5,6,7,8,9,10,11,12,13,14,15,16,17,18,19,20,21,22], "labelExpr": "datum.value % 2 === 0 ? datum.label : ''", "tickSize": {"condition": {"test": "datum.value % 2 === 0", "value": 4}, "value": 2}}}, "text": {"field": "let"}}}
     ]},
    {"width": 26, "height": 294, "data": {"values": []}, "mark": "point"},
    {"width": 89, "height": 294,
     "transform": [{"filter": "datum.m==='spp' && datum.g==='Facultative' && datum.s==='B'"}],
     "encoding": {"x": {"field": "method", "type": "nominal", "sort": ["Sieving lower","Sieving upper"], "scale": {"paddingInner": 0.2, "paddingOuter": 0.1}, "axis": {"labelAngle": -28, "labelAlign": "right", "labelBaseline": "top", "labelPadding": 16, "labelFontSize": 14}}},
     "layer": [
       {"mark": "bar", "encoding": {"y": {"field": "mean", "type": "quantitative", "scale": {"domain": [0,22], "nice": false}, "axis": null}}},
       {"mark": "rule", "encoding": {"y": {"field": "lo", "type": "quantitative", "axis": null}, "y2": {"field": "hi"}}},
       {"mark": "tick", "encoding": {"y": {"field": "lo", "type": "quantitative", "axis": null}}},
       {"mark": "tick", "encoding": {"y": {"field": "hi", "type": "quantitative", "axis": null}}},
       {"mark": {"type": "text", "dy": -10, "dx": 22}, "encoding": {"y": {"field": "hi", "type": "quantitative", "axis": null}, "text": {"field": "let"}}}
     ]}
   ]}
  ]
}
